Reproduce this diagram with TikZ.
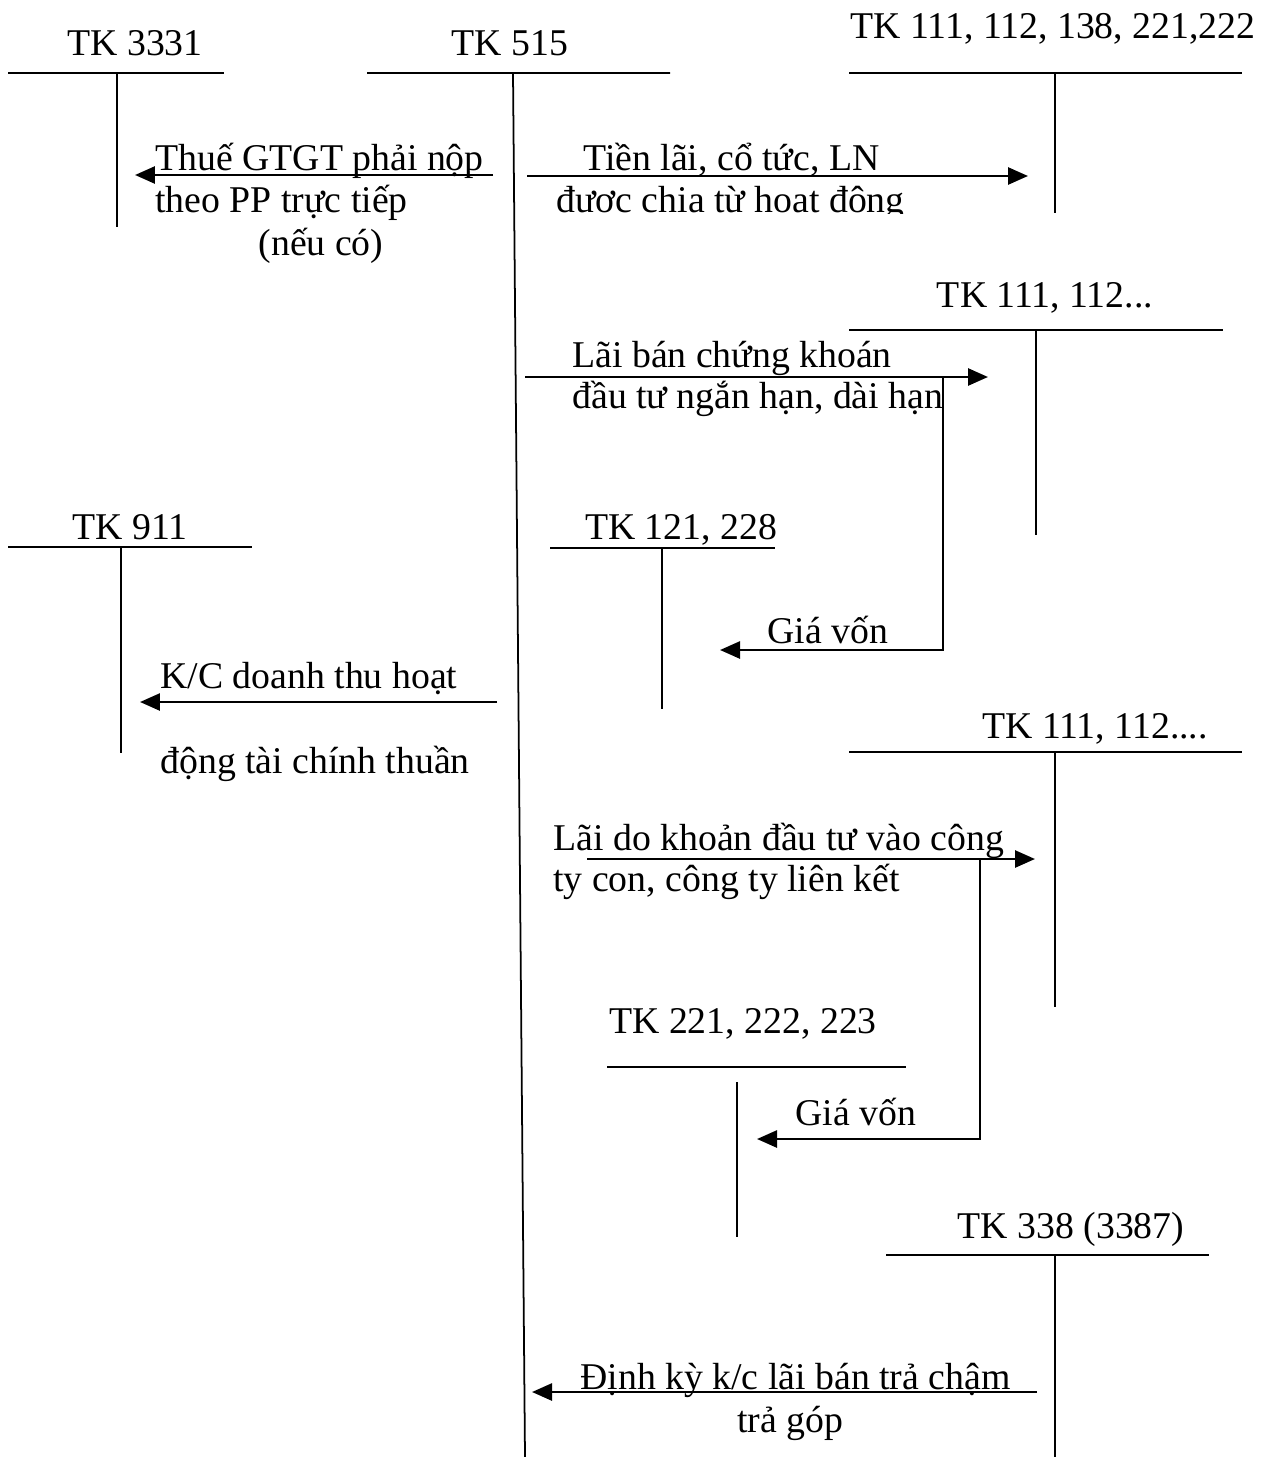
\documentclass[tikz,border=0pt]{standalone}
\usepackage{fontspec}
\setmainfont{Liberation Serif}
\usetikzlibrary{arrows.meta,positioning}

\begin{document}
\begin{tikzpicture}[
		x=0.02cm, y=-0.02cm,
		every node/.style={
			font=\fontsize{21.5}{25}\selectfont,
			inner sep=0pt
		},
		acc/.style={anchor=base},
		txt/.style={anchor=base west},
		tline/.style={line width=1pt},
		flow/.style={line width=1.5pt,-{Triangle[length=0.4cm,width=0.34cm]}}
		]
		
		\useasboundingbox (0,0) rectangle (1271,1457);
		
		% account names
		\node[acc] (k3331) at (135,55) {TK 3331};
		\node[acc] (k515) at (510,55) {TK 515};
		\node[acc] (k111a) at (1053,38) {TK 111, 112, 138, 221,222};
		\node[acc] (k111b) at (1045,307) {TK 111, 112...};
		\node[acc] (k121) at (681,539) {TK 121, 228};
		\node[acc] (k911) at (130,539) {TK 911};
		\node[acc] (k111c) at (1095,738) {TK 111, 112....};
		\node[acc] (k221) at (743,1033) {TK 221, 222, 223};
		\node[acc] (k338) at (1071,1238) {TK 338 (3387)};
		
		% T accounts
		\draw[tline] (8,73) -- (224,73) (117,73) -- (117,227);
		\draw[tline] (367,73) -- (670,73) (513,73) -- (525,1457);
		\draw[tline] (849,73) -- (1242,73) (1055,73) -- (1055,213);
		\draw[tline] (849,330) -- (1223,330) (1036,330) -- (1036,535);
		\draw[tline] (550,548) -- (775,548) (662,548) -- (662,709);
		\draw[tline] (8,547) -- (252,547) (121,547) -- (121,753);
		\draw[tline] (849,752) -- (1242,752) (1055,752) -- (1055,1007);
		\draw[tline] (607,1067) -- (906,1067) (737,1082) -- (737,1237);
		\draw[tline] (886,1255) -- (1209,1255) (1055,1255) -- (1055,1457);
		
		% arrow ends
		\coordinate (s1) at (493,175);
		\coordinate (e1) at (135,175);
		\coordinate (s2) at (527,176);
		\coordinate (e2) at (1028,176);
		\coordinate (s3) at (525,377);
		\coordinate (e3) at (988,377);
		\coordinate (b3) at (943,377);
		\coordinate (g3) at (720,650);
		\coordinate (s4) at (497,702);
		\coordinate (e4) at (140,702);
		\coordinate (s5) at (587,859);
		\coordinate (e5) at (1035,859);
		\coordinate (b5) at (980,859);
		\coordinate (g5) at (757,1139);
		\coordinate (s6) at (1037,1392);
		\coordinate (e6) at (532,1392);
		
		\draw[flow] (s1) -- (e1);
		\draw[flow] (s2) -- (e2);
		\draw[flow] (s3) -- (e3);
		\draw[flow] (b3) |- (g3);
		\draw[flow] (s4) -- (e4);
		\draw[flow] (s5) -- (e5);
		\draw[flow] (b5) |- (g5);
		\draw[flow] (s6) -- (e6);
		
		% texts on the arrows
		\node[txt] (t1a) at (155,170) {Thuế GTGT phải nộp};
		\node[txt] (t1b) at (155,212) {theo PP trực tiếp};
		\node[acc] (t1c) at (321,255) {(nếu có)};
		\node[txt] (t2a) at (583,170) {Tiền lãi, cổ tức, LN};
		\begin{scope}
			\clip (540,180) rectangle (920,213);
			\node[txt] (t2b) at (556,212) {được chia từ hoạt động};
		\end{scope}
		\node[txt] (t3a) at (572,367) {Lãi bán chứng khoán};
		\node[txt] (t3b) at (572,408) {đầu tư ngắn hạn, dài hạn};
		\node[txt] (t3c) at (767,643) {Giá vốn};
		\node[txt] (t4a) at (160,688) {K/C doanh thu hoạt};
		\node[txt] (t4b) at (160,773) {động tài chính thuần};
		\node[txt] (t5a) at (553,850) {Lãi do khoản đầu tư vào công};
		\node[txt] (t5b) at (553,891) {ty con, công ty liên kết};
		\node[txt] (t5c) at (795,1125) {Giá vốn};
		\node[txt] (t6a) at (580,1389) {Định kỳ k/c lãi bán trả chậm};
		\node[acc] (t6b) at (790,1432) {trả góp};
		
	\end{tikzpicture}
\end{document}
